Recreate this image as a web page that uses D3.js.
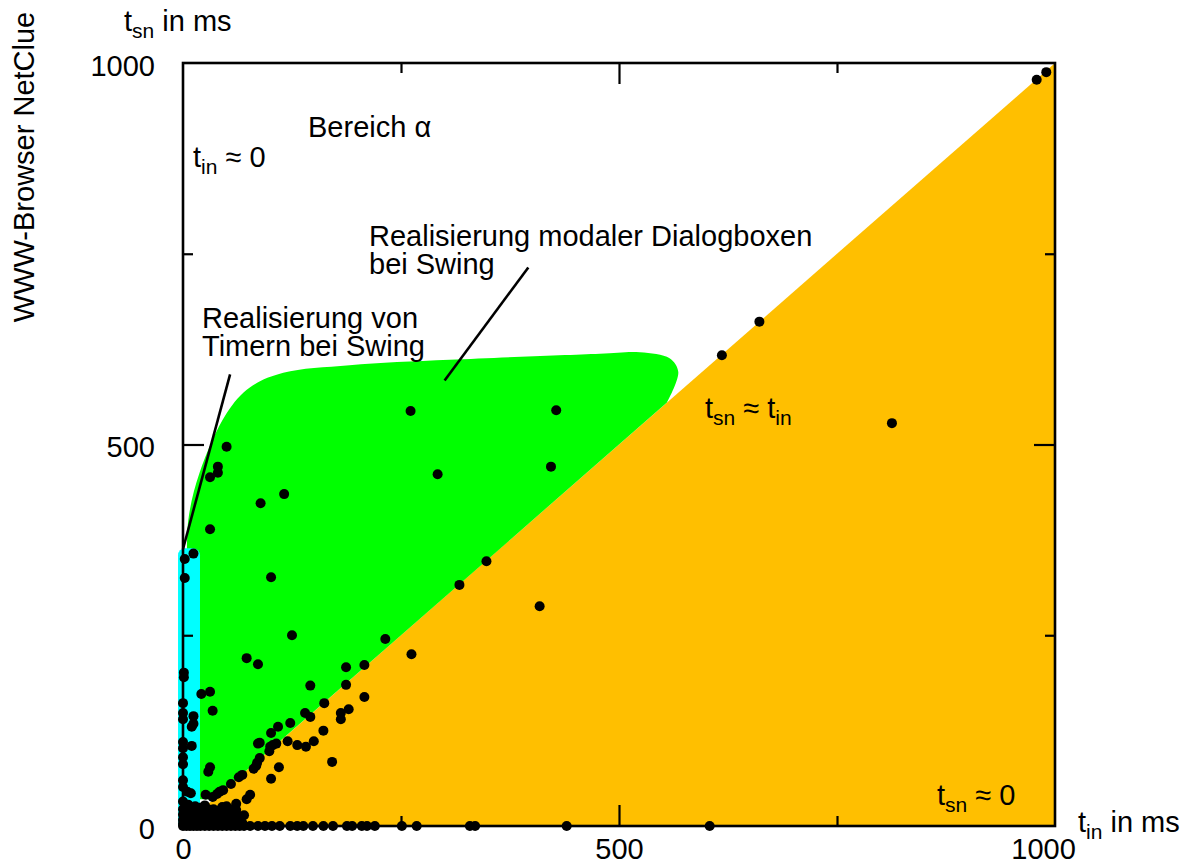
<!DOCTYPE html>
<html><head><meta charset="utf-8">
<script src="https://cdn.jsdelivr.net/npm/d3@7"></script>
<style>
html,body{margin:0;padding:0;background:#fff;}
svg text{font-family:"Liberation Sans",Arial,Helvetica,sans-serif;fill:#000;}
</style></head>
<body>
<svg id="c" width="1190" height="864"></svg>
<script>
// ---- data (t_in, t_sn in ms) ----
const tIn = [979,990,661,618,428,261,813,422,292,50,40,40,31,116,89,31,2,12,2,101,348,317,409,125,232,262,73,86,187,208,146,187,208,162,1,1,21,31,34,0,0,0,12,10,12,140,146,181,181,190,123,109,161,101,120,131,141,150,86,88,0,0,0,0,10,100,103,107,99,88,85,84,81,171,110,101,31,29,68,64,55,0,0,5,9,46,42,39,34,26,77,73,0,61,61,
  0,0,0,0,5,8,12,15,18,22,25,28,32,35,38,42,45,48,52,55,58,3,10,20,30,40,50,14,6,25,62,66,70,45,60,
  2,7,11,17,21,27,33,37,43,47,53,57,64,68,4,9,14,19,24,29,34,39,44,49,54,59,65,1,6,16,23,31,36,41,51,56,
  0,4,8,12,16,20,25,30,35,40,45,50,55,60,65,70,77,86,94,102,111,123,131,138,149,161,172,188,194,205,211,220,251,268,329,335,440,604];
const tSn = [978,988,661,617,545,544,528,471,461,497,471,463,457,435,423,389,350,357,325,326,347,316,288,250,245,225,220,212,208,211,184,185,169,161,201,195,173,176,151,161,148,140,144,130,134,148,143,148,140,153,135,130,125,122,111,106,104,111,108,109,110,102,90,81,105,104,106,108,98,89,83,79,75,84,77,62,77,71,67,64,55,60,51,45,43,47,45,42,38,41,41,35,32,29,21,
  22,15,8,3,18,10,20,5,14,24,8,18,12,22,5,15,25,8,18,12,4,12,2,10,3,20,26,26,28,27,10,5,14,3,18,
  6,14,9,4,19,12,7,16,10,4,14,6,9,4,26,20,16,24,12,22,18,10,20,13,22,16,12,14,4,22,17,9,6,11,3,7,
  0,0,0,0,0,0,0,0,0,0,0,0,0,0,0,0,0,0,0,0,0,0,0,0,0,0,0,0,0,0,0,0,0,0,0,0,0,0];

const majorTicks = [500];
const minorTicks = [250, 750];
const tickLabels = [0, 500, 1000];

// region outlines (data units)
const orangeRegion = [[0,0],[1000,0],[1000,1000]];
const greenCurve = [[5,330],[6,400],[19,463],[50,541],[77,575],[115,594],[191,604],[306,611],[478,619],[524,621],[558,613],[568,595],[555,555]];
const greenStraight = [[35,35],[12,35]];
const cyanBox = {x0:-5.7, x1:19.5, y0:0, y1:364};
const leaderTimer = [[54,592],[0,363]];
const leaderModal = [[396,732],[300,584]];

// ---- drawing ----
const svg = d3.select("#c");
const L=183,R=1055,T=63,B=826;
const x = d3.scaleLinear([0,1000],[L,R]);
const y = d3.scaleLinear([0,1000],[B,T]);
const FS = 29, SUB = 21;

svg.append("clipPath").attr("id","plot").append("rect")
  .attr("x",L).attr("y",T).attr("width",R-L).attr("height",B-T);
const g = svg.append("g").attr("clip-path","url(#plot)");

g.append("path")
  .attr("d", d3.line().x(d=>x(d[0])).y(d=>y(d[1]))(orangeRegion)+"Z")
  .attr("fill","#FFBF00");

const curvePath = d3.line().x(d=>x(d[0])).y(d=>y(d[1])).curve(d3.curveCatmullRom.alpha(0.5))(greenCurve);
const straight = greenStraight.map(d=>"L"+x(d[0])+","+y(d[1])).join("");
g.append("path").attr("d", curvePath+straight+"Z").attr("fill","#00FF00");

// cyan rounded box (extends slightly left of the axis)
svg.append("clipPath").attr("id","cy").append("rect")
  .attr("x",0).attr("y",0).attr("width",1190).attr("height",B);
const cx0=x(cyanBox.x0), cx1=x(cyanBox.x1), cy1=y(cyanBox.y1), cy0=y(cyanBox.y0)+10;
svg.append("rect").attr("clip-path","url(#cy)").attr("x",cx0).attr("y",cy1).attr("width",cx1-cx0).attr("height",cy0-cy1)
  .attr("rx",7).attr("fill","#00FFFF");

// frame
svg.append("rect").attr("x",L).attr("y",T).attr("width",R-L).attr("height",B-T)
  .attr("fill","none").attr("stroke","#000").attr("stroke-width",2.6);

function tickAxis(gen, scale, ticks, size, transform){
  const a = svg.append("g").attr("transform",transform)
    .call(gen(scale).tickValues(ticks).tickSize(size).tickFormat(""));
  a.select(".domain").remove();
  a.selectAll("line").attr("stroke","#000").attr("stroke-width",2.2);
}
[[majorTicks,21],[minorTicks,10]].forEach(([t,s])=>{
  tickAxis(d3.axisBottom, x, t, -s, `translate(0,${B})`);
  tickAxis(d3.axisTop, x, t, -s, `translate(0,${T})`);
  tickAxis(d3.axisLeft, y, t, -s, `translate(${L},0)`);
  tickAxis(d3.axisRight, y, t, -s, `translate(${R},0)`);
});

// labels
const fmt = d3.format("d");
const xl = svg.append("g").attr("transform",`translate(0,${B})`)
  .call(d3.axisBottom(x).tickValues(tickLabels).tickSize(0).tickPadding(12).tickFormat(fmt));
xl.select(".domain").remove();
xl.selectAll("text").attr("font-size",FS).attr("font-family",null).attr("fill","#000")
  .attr("dx",d=>d===1000?-12:0);
const yl = svg.append("g").attr("transform",`translate(${L},0)`)
  .call(d3.axisLeft(y).tickValues(tickLabels).tickSize(0).tickPadding(28).tickFormat(fmt));
yl.select(".domain").remove();
yl.selectAll("text").attr("font-size",FS).attr("font-family",null).attr("fill","#000").attr("dy","0.42em");

// points
svg.append("g").selectAll("circle").data(tIn.map((v,i)=>[v,tSn[i]])).join("circle")
  .attr("cx",d=>x(d[0])).attr("cy",d=>y(d[1])).attr("r",5).attr("fill","#000");

// leader lines
[leaderTimer, leaderModal].forEach(l=>{
  svg.append("line").attr("x1",x(l[0][0])).attr("y1",y(l[0][1]))
    .attr("x2",x(l[1][0])).attr("y2",y(l[1][1]))
    .attr("stroke","#000").attr("stroke-width",2.6);
});

// texts
function sub(xp, yp, parts){
  const t = svg.append("text").attr("x",xp).attr("y",yp).attr("font-size",FS);
  let down = false;
  parts.forEach(p=>{
    const s = t.append("tspan").text(p[0]);
    if(p[1]){ s.attr("font-size",SUB).attr("dy", down?0:7); down=true; }
    else { if(down){ s.attr("dy",-7); down=false; } }
  });
  return t;
}
sub(124, 31, [["t"],["sn",1],[" in ms"]]);
sub(1078, 832, [["t"],["in",1],[" in ms"]]);
sub(193, 167, [["t"],["in",1],[" \u2248 0"]]);
sub(705, 418, [["t"],["sn",1],[" \u2248 t"],["in",1]]);
sub(937, 805, [["t"],["sn",1],[" \u2248 0"]]);
svg.append("text").attr("x",308).attr("y",137).attr("font-size",FS).text("Bereich \u03B1");
svg.append("text").attr("x",369).attr("y",246).attr("font-size",FS).text("Realisierung modaler Dialogboxen");
svg.append("text").attr("x",369).attr("y",274).attr("font-size",FS).text("bei Swing");
svg.append("text").attr("x",202).attr("y",328).attr("font-size",FS).text("Realisierung von");
svg.append("text").attr("x",202).attr("y",356).attr("font-size",FS).text("Timern bei Swing");
svg.append("text").attr("transform","translate(34,167) rotate(-90)").attr("text-anchor","middle")
  .attr("font-size",FS).text("WWW-Browser NetClue");
</script>
</body></html>
